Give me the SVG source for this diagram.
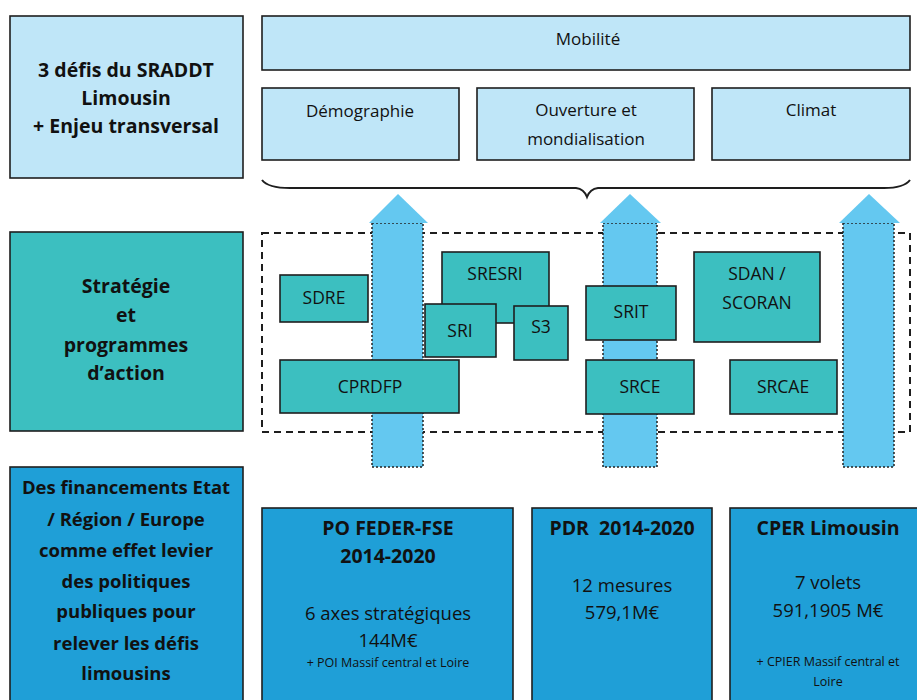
<svg xmlns="http://www.w3.org/2000/svg" width="917" height="700" viewBox="0 0 917 700">
<style>
.lb{fill:#bfe6f8;stroke:#1e1e1e;stroke-width:1.6}
.tl{fill:#3cbfc0;stroke:#1e1e1e;stroke-width:1.6}
.bl{fill:#1f9fd7;stroke:#1e1e1e;stroke-width:1.6}
text{font-family:"Open Sans","Liberation Sans",sans-serif;fill:#111;text-anchor:middle}
.b{font-weight:bold;font-size:19.5px}
.b2{font-weight:bold;font-size:18.5px}
.r{font-size:17px}
.m{font-size:17.5px}
.f{font-size:18.5px}
.s{font-size:12.5px}
.arr{fill:#64c8f0}
.shaft{fill:#64c8f0;stroke:#222;stroke-width:1.5;stroke-dasharray:2 2}
</style>
<rect width="917" height="700" fill="#ffffff"/>

<g id="defis">
<rect class="lb" x="10" y="16" width="233" height="162"/>
<text class="b" x="126" y="77">3 défis du SRADDT</text>
<text class="b" x="126" y="105">Limousin</text>
<text class="b" x="126" y="133">+ Enjeu transversal</text>
</g>
<g id="mobilite">
<rect class="lb" x="262" y="16" width="648" height="54"/>
<text class="r" x="588" y="45">Mobilité</text>
</g>
<g id="demographie">
<rect class="lb" x="262" y="88" width="197" height="72"/>
<text class="r" x="360" y="117">Démographie</text>
</g>
<g id="ouverture">
<rect class="lb" x="477" y="88" width="217" height="72"/>
<text class="r" x="586" y="116">Ouverture et</text>
<text class="r" x="586" y="145">mondialisation</text>
</g>
<g id="climat">
<rect class="lb" x="712" y="88" width="198" height="72"/>
<text class="r" x="811" y="116">Climat</text>
</g>

<g id="strategie">
<rect class="tl" x="10" y="232" width="233" height="199"/>
<text class="b" x="126" y="293">Stratégie</text>
<text class="b" x="126" y="322">et</text>
<text class="b" x="126" y="352">programmes</text>
<text class="b" x="126" y="380">d’action</text>
</g>

<g id="connectors">
<path d="M262 180 Q268 188 290 188 L576 188 Q584 189 587 197 Q590 189 598 188 L884 188 Q904 188 910 180" fill="none" stroke="#1e1e1e" stroke-width="2"/>
<rect x="262" y="233" width="648" height="199" fill="none" stroke="#1e1e1e" stroke-width="2" stroke-dasharray="7 5"/>
<rect class="shaft" x="372" y="223" width="51" height="244"/>
<polygon class="arr" points="398,194 428,223 369,223"/>
<rect class="shaft" x="603" y="223" width="54" height="244"/>
<polygon class="arr" points="630,194 661,223 600,223"/>
<rect class="shaft" x="843" y="223" width="51" height="244"/>
<polygon class="arr" points="869,194 900,223 839,223"/>
</g>

<g id="sdre">
<rect class="tl" x="280" y="275" width="88" height="47"/>
<text class="m" x="324" y="304">SDRE</text>
</g>
<g id="cprdfp">
<rect class="tl" x="280" y="360" width="179" height="53"/>
<text class="m" x="370" y="393">CPRDFP</text>
</g>
<g id="sresri">
<rect class="tl" x="442" y="252" width="107" height="71"/>
<text class="m" x="495" y="280">SRESRI</text>
</g>
<g id="sri">
<rect class="tl" x="425" y="304" width="71" height="53"/>
<text class="m" x="460" y="337">SRI</text>
</g>
<g id="s3">
<rect class="tl" x="514" y="306" width="54" height="54"/>
<text class="m" x="541" y="333">S3</text>
</g>
<g id="srit">
<rect class="tl" x="586" y="286" width="90" height="54"/>
<text class="m" x="631" y="318">SRIT</text>
</g>
<g id="srce">
<rect class="tl" x="586" y="360" width="108" height="54"/>
<text class="m" x="640" y="393">SRCE</text>
</g>
<g id="sdan">
<rect class="tl" x="694" y="252" width="126" height="90"/>
<text class="m" x="757" y="280">SDAN /</text>
<text class="m" x="757" y="309">SCORAN</text>
</g>
<g id="srcae">
<rect class="tl" x="730" y="360" width="107" height="54"/>
<text class="m" x="783" y="393">SRCAE</text>
</g>

<g id="financements">
<rect class="bl" x="10" y="467" width="233" height="240"/>
<text class="b2" x="126" y="494">Des financements Etat</text>
<text class="b2" x="126" y="526">/ Région / Europe</text>
<text class="b2" x="126" y="557">comme effet levier</text>
<text class="b2" x="126" y="588">des politiques</text>
<text class="b2" x="126" y="618">publiques pour</text>
<text class="b2" x="126" y="650">relever les défis</text>
<text class="b2" x="126" y="680">limousins</text>
</g>
<g id="pofeder">
<rect class="bl" x="262" y="508" width="251" height="200"/>
<text class="b" x="388" y="535">PO FEDER-FSE</text>
<text class="b" x="388" y="563">2014-2020</text>
<text class="f" x="388" y="620">6 axes stratégiques</text>
<text class="f" x="388" y="647">144M€</text>
<text class="s" x="388" y="667">+ POI Massif central et Loire</text>
</g>
<g id="pdr">
<rect class="bl" x="532" y="508" width="180" height="200"/>
<text class="b" x="622" y="535" xml:space="preserve">PDR  2014-2020</text>
<text class="f" x="622" y="592">12 mesures</text>
<text class="f" x="622" y="619">579,1M€</text>
</g>
<g id="cper">
<rect class="bl" x="730" y="508" width="190" height="200"/>
<text class="b" x="828" y="535">CPER Limousin</text>
<text class="f" x="828" y="589">7 volets</text>
<text class="f" x="828" y="617">591,1905 M€</text>
<text class="s" x="828" y="666">+ CPIER Massif central et</text>
<text class="s" x="828" y="686">Loire</text>
</g>
</svg>
